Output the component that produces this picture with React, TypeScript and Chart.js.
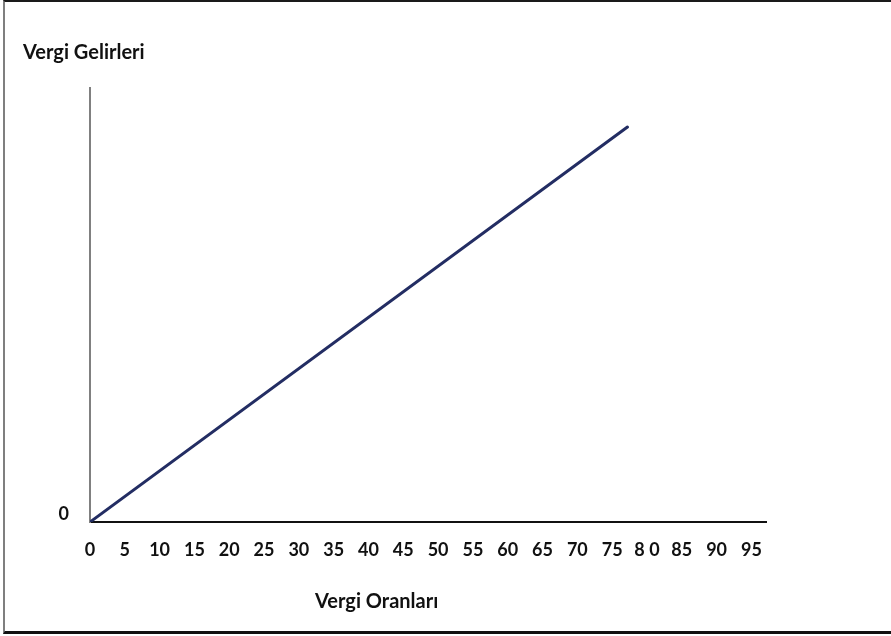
import React, { useEffect, useRef } from "react";
import { Chart, registerables } from "chart.js";

Chart.register(...registerables);

const taxRates = [0, 77.2];
const taxRevenues = [0, 91];
const xTickValues = [0, 5, 10, 15, 20, 25, 30, 35, 40, 45, 50, 55, 60, 65, 70, 75, 80, 85, 90, 95];
const xTickLabels = ["0", "5", "10", "15", "20", "25", "30", "35", "40", "45", "50", "55", "60", "65", "70", "75", "8 0", "85", "90", "95"];
const yTickValues = [0];
const yTickLabels = ["0"];
const yAxisTitle = "Vergi Gelirleri";
const xAxisTitle = "Vergi Oranları";

const FONT = "Lato, 'Open Sans', sans-serif";

const titlesPlugin = {
  id: "axisTitles",
  afterDraw(chart: any) {
    const { ctx, chartArea } = chart;
    ctx.save();
    ctx.fillStyle = "#111111";
    ctx.font = `bold 20px ${FONT}`;
    ctx.textBaseline = "alphabetic";
    ctx.textAlign = "left";
    ctx.fillText(yAxisTitle, chartArea.left - 67, 59);
    ctx.fillText(xAxisTitle, chartArea.left + 225, 608);
    ctx.restore();
  },
};

export default function App() {
  const ref = useRef<HTMLCanvasElement | null>(null);

  useEffect(() => {
    if (!ref.current) return;
    const chart = new Chart(ref.current, {
      type: "line",
      data: {
        datasets: [
          {
            data: taxRates.map((x, i) => ({ x, y: taxRevenues[i] })),
            borderColor: "#232D63",
            borderWidth: 3,
            pointRadius: 0,
            fill: false,
            tension: 0,
            borderCapStyle: "round",
          },
        ],
      },
      options: {
        animation: false,
        responsive: false,
        devicePixelRatio: 1,
        layout: { padding: { left: 0, top: 88, right: 125, bottom: 0 } },
        plugins: {
          legend: { display: false },
          tooltip: { enabled: false },
          title: { display: false },
        },
        scales: {
          x: {
            type: "linear",
            min: 0,
            max: 97.1,
            grid: { display: false, drawTicks: false },
            border: { display: true, color: "#111111", width: 2 },
            afterBuildTicks: (axis: any) => {
              axis.ticks = xTickValues.map((v) => ({ value: v }));
            },
            afterFit: (axis: any) => {
              axis.height = 114;
            },
            ticks: {
              autoSkip: false,
              maxRotation: 0,
              padding: 17,
              color: "#111111",
              font: { family: FONT, size: 18, weight: "bold" },
              callback: (v: any) => {
                const i = xTickValues.indexOf(Number(v));
                return i >= 0 ? xTickLabels[i] : "";
              },
            },
          },
          y: {
            type: "linear",
            min: 0,
            max: 100,
            grid: { display: false, drawTicks: false },
            border: { display: true, color: "#808080", width: 2 },
            afterBuildTicks: (axis: any) => {
              axis.ticks = yTickValues.map((v) => ({ value: v }));
            },
            afterFit: (axis: any) => {
              axis.width = 90;
            },
            ticks: {
              padding: 21,
              labelOffset: -8,
              color: "#111111",
              font: { family: FONT, size: 18, weight: "bold" },
              callback: (v: any) => {
                const i = yTickValues.indexOf(Number(v));
                return i >= 0 ? yTickLabels[i] : "";
              },
            },
          },
        },
      },
      plugins: [titlesPlugin],
    } as any);
    return () => chart.destroy();
  }, []);

  return (
    <div style={{ position: "absolute", left: 0, top: 0, width: 891, height: 636, background: "#ffffff" }}>
      <canvas ref={ref} width={891} height={636} style={{ position: "absolute", left: 0, top: 0, width: 891, height: 636 }} />
      <div
        style={{
          position: "absolute",
          left: 3,
          top: 0,
          width: 890,
          height: 634,
          boxSizing: "border-box",
          borderTop: "2px solid #1a1a1a",
          borderLeft: "2px solid #7f7f7f",
          borderBottom: "3px solid #111111",
          pointerEvents: "none",
        }}
      />
    </div>
  );
}
